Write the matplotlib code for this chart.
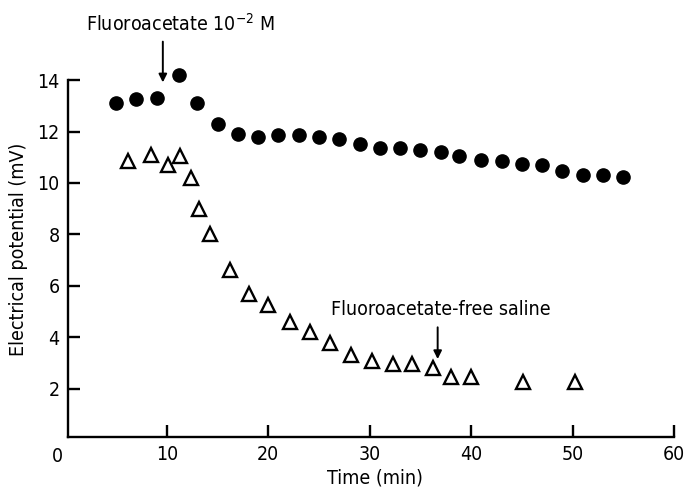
import numpy as np
import matplotlib.pyplot as plt

plt.rcParams['font.family'] = ['DejaVu Sans']
plt.rcParams['font.stretch'] = 'condensed'

# control preparation (filled circles)
t_ctrl = [5, 7, 9, 11.2, 13, 15, 17, 19, 21, 23, 25, 27, 29, 31, 33, 35,
          37, 38.8, 41, 43, 45, 47, 49, 51, 53, 55]
v_ctrl = [13.1, 13.25, 13.3, 14.2, 13.1, 12.3, 11.9, 11.8, 11.85, 11.85,
          11.8, 11.7, 11.5, 11.35, 11.35, 11.3, 11.2, 11.05, 10.9, 10.85,
          10.75, 10.7, 10.45, 10.3, 10.3, 10.25]

# preparation exposed to fluoroacetate (open triangles)
t_fa = [6.2, 8.4, 10.1, 11.3, 12.4, 13.2, 14.3, 16.2, 18.1, 20, 22.1, 24.1,
        26.1, 28.2, 30.2, 32.3, 34.2, 36.2, 38, 40, 45.1, 50.2]
v_fa = [10.85, 11.1, 10.7, 11.05, 10.2, 9.0, 8.0, 6.6, 5.7, 5.25, 4.6, 4.2,
        3.8, 3.3, 3.1, 2.95, 2.95, 2.8, 2.45, 2.45, 2.25, 2.25]

xticks = [10, 20, 30, 40, 50, 60]
yticks = [2, 4, 6, 8, 10, 12, 14]

fig = plt.figure(figsize=(6.87, 4.88), dpi=100)
ax = fig.add_axes([0.099, 0.105, 0.882, 0.731])

ax.plot(t_ctrl, v_ctrl, 'o', color='black', markersize=9.5, clip_on=False)
ax.plot(t_fa, v_fa, '^', markerfacecolor='white', markeredgecolor='black',
        markeredgewidth=1.7, markersize=10, clip_on=False)

ax.set_xlim(0.25, 60)
ax.set_ylim(0.14, 14)
ax.set_xticks(xticks)
ax.set_yticks(yticks)
ax.set_xticklabels([str(v) for v in xticks])
ax.set_yticklabels([str(v) for v in yticks])

for side in ('top', 'right'):
    ax.spines[side].set_visible(False)
for side in ('left', 'bottom'):
    ax.spines[side].set_linewidth(1.7)

fs = 14
ax.tick_params(direction='in', length=8.5, width=1.7, labelsize=fs, pad=6)
ax.text(-0.018, -0.055, '0', transform=ax.transAxes, ha='center', va='center',
        fontsize=fs)

ax.set_xlabel('Time (min)', fontsize=fs)
ax.xaxis.set_label_coords(0.506, -0.088)
ax.set_ylabel('Electrical potential (mV)', fontsize=fs)
ax.yaxis.set_label_coords(-0.066, 0.524)

# treatment markers
ax.annotate('', xy=(9.6, 13.8), xytext=(9.6, 15.6),
            arrowprops=dict(arrowstyle='-|>', color='black', lw=1.4,
                            mutation_scale=12), annotation_clip=False)
ax.text(11.3, 16.2, r'Fluoroacetate $\mathregular{10^{-2}}$ M', ha='center',
        va='center', fontsize=fs)

ax.annotate('', xy=(36.7, 3.05), xytext=(36.7, 4.5),
            arrowprops=dict(arrowstyle='-|>', color='black', lw=1.4,
                            mutation_scale=12), annotation_clip=False)
ax.text(37, 5.07, 'Fluoroacetate-free saline', ha='center', va='center',
        fontsize=fs)

fig.savefig('out.png', dpi=100)
